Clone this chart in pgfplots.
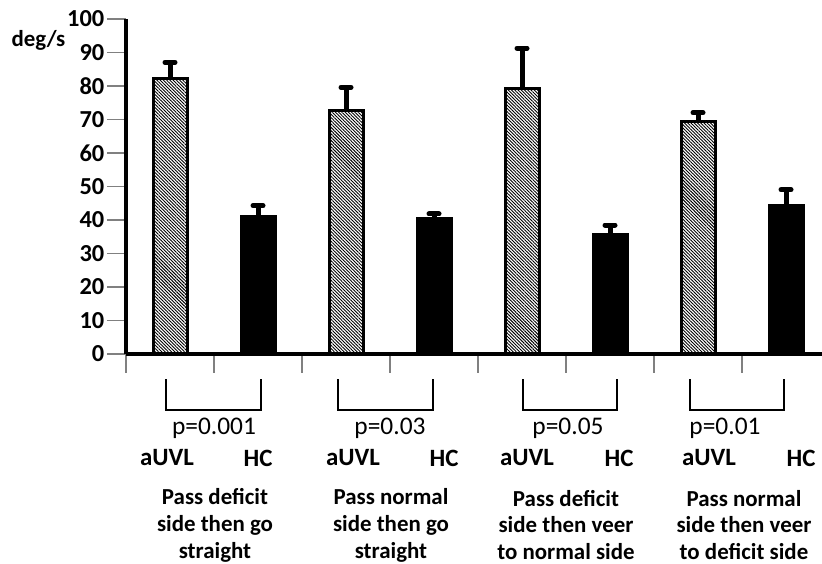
\documentclass[border=0pt]{standalone}
\usepackage{pgfplots}
\pgfplotsset{compat=1.18}
\usepackage{pgfplotstable}
\usepackage{fontspec}
\setmainfont{Carlito}
\usetikzlibrary{patterns.meta}

\pgfplotstableread{
x y e
0 82.3 4.8
2 72.6 7.0
4 79.3 12.0
6 69.3 2.7
}\auvl
\pgfplotstableread{
x y e
1 40.9 3.4
3 40.5 1.3
5 35.8 2.7
7 44.4 4.6
}\hc

\begin{document}
\begin{tikzpicture}
\useasboundingbox (-126bp,-210bp) rectangle (696bp,354bp);
\begin{axis}[
  at={(0,0)}, anchor=south west,
  scale only axis, width=696bp, height=335bp,
  xmin=-0.5, xmax=7.409, ymin=0, ymax=100,
  axis x line=bottom, axis y line=left,
  axis line style={-, line width=4bp, black},
  xtick={-0.5,0.5,...,6.5}, xticklabels={},
  ytick={0,10,...,100},
  yticklabel={\fontsize{24.5}{29}\selectfont\bfseries\pgfmathprintnumber{\tick}},
  tick align=outside, major tick length=19bp,
  tick style={gray, line width=1.5bp},
  yticklabel style={inner sep=2.5bp},
  /pgf/number format/assume math mode=true,
  clip=false,
]
\addplot[ybar, bar width=34bp, bar shift=0pt, draw=black, line width=3bp,
  pattern={Lines[angle=-45,distance=2.3bp,line width=0.9bp]}, pattern color=black,
  error bars/.cd, y dir=plus, y explicit,
  error bar style={line width=5bp, solid, black},
  error mark options={rotate=90, line width=5bp, mark size=5bp, line cap=round, black}]
  table[x=x, y=y, y error=e] {\auvl};
\addplot[ybar, bar width=34bp, bar shift=0pt, draw=black, fill=black, line width=3bp,
  error bars/.cd, y dir=plus, y explicit,
  error bar style={line width=5bp, solid, black},
  error mark options={rotate=90, line width=5bp, mark size=5bp, line cap=round, black}]
  table[x=x, y=y, y error=e] {\hc};
\end{axis}
% y label
\node[font=\bfseries\fontsize{23}{27}\selectfont] at (-87.5bp,314bp) {deg/s};
% brackets
\foreach \a/\b in {40/135, 212/307, 397/491, 564/658}{
  \draw[line width=2.5bp, black] (\a bp,-25bp) -- (\a bp,-56bp) -- (\b bp,-56bp) -- (\b bp,-25bp);
}
% p values
\foreach \x/\t in {88/p=0.001, 264/p=0.03, 442/p=0.05, 599/p=0.01}{
  \node[font=\fontsize{25.5}{30}\selectfont] at (\x bp,-74bp) {\t};
}
% group names
\foreach \x in {41,227,401,583}{
  \node[font=\bfseries\fontsize{25}{30}\selectfont] at (\x bp,-104bp) {aUVL};
}
\foreach \x in {132,318,493,675}{
  \node[font=\bfseries\fontsize{25}{30}\selectfont] at (\x bp,-104bp) {HC};
}
% categories
\node[align=center, font=\bfseries\fontsize{23}{27}\selectfont] at (89bp,-171bp) {Pass deficit\\side then go\\straight};
\node[align=center, font=\bfseries\fontsize{23}{27}\selectfont] at (265bp,-171bp) {Pass normal\\side then go\\straight};
\node[align=center, font=\bfseries\fontsize{23}{27}\selectfont] at (440bp,-171bp) {Pass deficit\\side then veer\\to normal side};
\node[align=center, font=\bfseries\fontsize{23}{27}\selectfont] at (618bp,-171bp) {Pass normal\\side then veer\\to deficit side};
\end{tikzpicture}
\end{document}
